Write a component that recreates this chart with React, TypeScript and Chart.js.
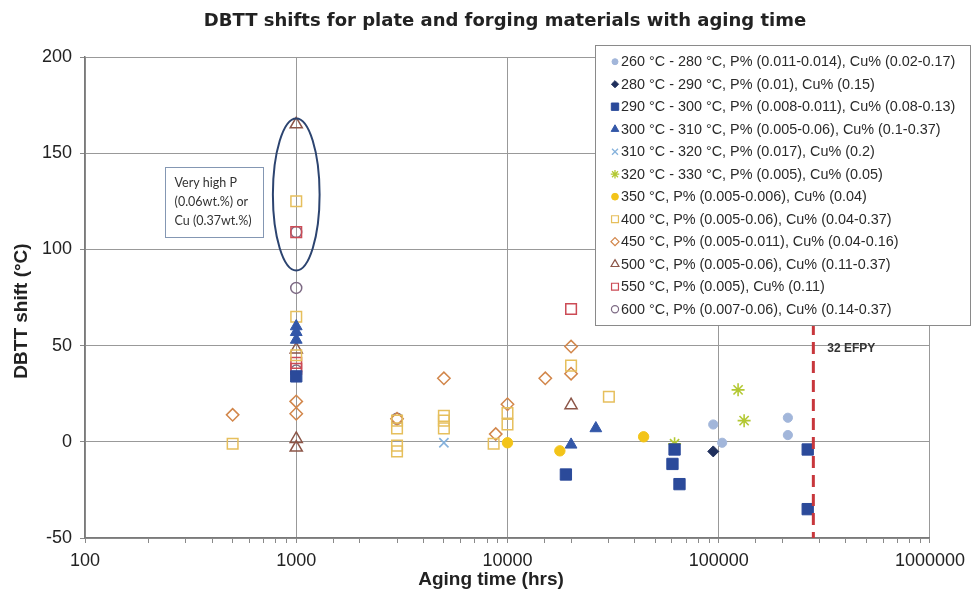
import React, { useEffect, useRef } from "react";
import { Chart, registerables } from "chart.js";
import { drawPoint } from "chart.js/helpers";

Chart.register(...registerables);

// ---------- DATA ----------
const chartTitle = "DBTT shifts for plate and forging materials with aging time";
const xAxisTitle = "Aging time (hrs)";
const yAxisTitle = "DBTT shift (\u00B0C)";

const seriesLabels = [
  "260 \u00B0C - 280 \u00B0C, P% (0.011-0.014), Cu% (0.02-0.17)",
  "280 \u00B0C - 290 \u00B0C, P% (0.01), Cu% (0.15)",
  "290 \u00B0C - 300 \u00B0C, P% (0.008-0.011), Cu% (0.08-0.13)",
  "300 \u00B0C - 310 \u00B0C, P% (0.005-0.06), Cu% (0.1-0.37)",
  "310 \u00B0C - 320 \u00B0C, P% (0.017), Cu% (0.2)",
  "320 \u00B0C - 330 \u00B0C, P% (0.005), Cu% (0.05)",
  "350 \u00B0C, P% (0.005-0.006), Cu% (0.04)",
  "400 \u00B0C, P% (0.005-0.06), Cu% (0.04-0.37)",
  "450 \u00B0C, P% (0.005-0.011), Cu% (0.04-0.16)",
  "500 \u00B0C, P% (0.005-0.06), Cu% (0.11-0.37)",
  "550 \u00B0C, P% (0.005), Cu% (0.11)",
  "600 \u00B0C, P% (0.007-0.06), Cu% (0.14-0.37)",
];

const s260X = [94200, 103800, 212500, 212500];
const s260Y = [9, -0.5, 12.5, 3.5];
const s280X = [94200];
const s280Y = [-5];
const s290X = [1000, 18900, 60400, 61800, 65200, 263800, 263800];
const s290Y = [34, -17, -11.5, -4, -22, -4, -35];
const s300X = [1000, 1000, 1000, 20000, 26200];
const s300Y = [60, 57, 53, -1.5, 7];
const s310X = [5000];
const s310Y = [-0.5];
const s320X = [61800, 123500, 131900];
const s320Y = [-1, 27, 11];
const s350X = [10000, 17700, 44100];
const s350Y = [-0.5, -4.7, 2.6];
const s400X = [500, 1000, 1000, 1000, 3000, 3000, 3000, 3000, 5000, 5000, 5000, 8600, 10000, 10000, 20000, 30200];
const s400Y = [-1, 125, 65, 45, 11, 7, -2, -5, 13.5, 11, 7, -1, 15, 9, 39.6, 23.4];
const s450X = [500, 1000, 1000, 3000, 5000, 8800, 10000, 15100, 20000, 20000];
const s450Y = [14, 21, 14.6, 12, 33, 4, 19.5, 33, 49.5, 35.4];
const s500X = [1000, 1000, 1000, 1000, 20000];
const s500Y = [165, 48, 1.5, -3, 19];
const s550X = [1000, 1000, 1000, 20000];
const s550Y = [109, 41, 38, 69];
const s600X = [1000, 1000, 1000, 3000];
const s600Y = [109, 80, 37, 12];

const xMin = 100;
const xMax = 1000000;
const yMin = -50;
const yMax = 200;
const yStep = 50;

const efpyHours = 280512; // 32 EFPY
const efpyLabel = "32 EFPY";
const efpyLabelY = 46.5;

const noteLines = ["Very high P", "(0.06wt.%) or", "Cu (0.37wt.%)"];
const noteBoxX = [238, 689];
const noteBoxY = [142.7, 106.3];
const ellipseX = [783, 1000, 1303];
const ellipseY = [168, 89];

// ---------- STYLES ----------
type Sty = { style: string; r: number; fill: string; stroke: string; bw: number };
const styles: Sty[] = [
  { style: "circle", r: 4.6, fill: "#a2b6da", stroke: "#a2b6da", bw: 1 },
  { style: "rectRot", r: 5.5, fill: "#1f2f5c", stroke: "#1f2f5c", bw: 1 },
  { style: "rect", r: 8, fill: "#2b4a9a", stroke: "#2b4a9a", bw: 1 },
  { style: "triangle", r: 6.8, fill: "#3357a8", stroke: "#3357a8", bw: 1 },
  { style: "crossRot", r: 6.5, fill: "rgba(0,0,0,0)", stroke: "#86b2dc", bw: 1.6 },
  { style: "star", r: 6.5, fill: "rgba(0,0,0,0)", stroke: "#b3c832", bw: 1.6 },
  { style: "circle", r: 5.2, fill: "#f3c419", stroke: "#f3c419", bw: 1 },
  { style: "rect", r: 7.5, fill: "rgba(0,0,0,0)", stroke: "#e6bf5c", bw: 1.5 },
  { style: "rectRot", r: 6.2, fill: "rgba(0,0,0,0)", stroke: "#d2864a", bw: 1.5 },
  { style: "triangle", r: 7, fill: "rgba(0,0,0,0)", stroke: "#8c5648", bw: 1.5 },
  { style: "rect", r: 7.5, fill: "rgba(0,0,0,0)", stroke: "#cc4b55", bw: 1.5 },
  { style: "circle", r: 5.5, fill: "rgba(0,0,0,0)", stroke: "#7d6a84", bw: 1.5 },
];

const seriesX = [s260X, s280X, s290X, s300X, s310X, s320X, s350X, s400X, s450X, s500X, s550X, s600X];
const seriesY = [s260Y, s280Y, s290Y, s300Y, s310Y, s320Y, s350Y, s400Y, s450Y, s500Y, s550Y, s600Y];

const SANS = '"Liberation Sans", Arial, sans-serif';

const isPow10 = (v: number) => {
  const l = Math.log10(v);
  return Math.abs(l - Math.round(l)) < 1e-9;
};

const overlayPlugin = {
  id: "overlay",
  afterDatasetsDraw(chart: any) {
    const { ctx, chartArea, scales } = chart;
    const x = scales.x;
    const y = scales.y;
    ctx.save();
    // 32 EFPY dashed line
    const lx = x.getPixelForValue(efpyHours);
    ctx.strokeStyle = "#c8373c";
    ctx.lineWidth = 3;
    ctx.setLineDash([12, 7]);
    ctx.beginPath();
    ctx.moveTo(lx, chartArea.top);
    ctx.lineTo(lx, chartArea.bottom);
    ctx.stroke();
    ctx.setLineDash([]);
    ctx.fillStyle = "#333";
    ctx.font = `bold 12px ${SANS}`;
    ctx.textAlign = "left";
    ctx.textBaseline = "alphabetic";
    ctx.fillText(efpyLabel, lx + 14, y.getPixelForValue(efpyLabelY));

    // ellipse
    const cx = x.getPixelForValue(ellipseX[1]);
    const rx = (x.getPixelForValue(ellipseX[2]) - x.getPixelForValue(ellipseX[0])) / 2;
    const yt = y.getPixelForValue(ellipseY[0]);
    const yb = y.getPixelForValue(ellipseY[1]);
    ctx.strokeStyle = "#2c4470";
    ctx.lineWidth = 2;
    ctx.beginPath();
    ctx.ellipse(cx, (yt + yb) / 2, rx, (yb - yt) / 2, 0, 0, Math.PI * 2);
    ctx.stroke();

    // note box
    const bx0 = x.getPixelForValue(noteBoxX[0]);
    const bx1 = x.getPixelForValue(noteBoxX[1]);
    const by0 = y.getPixelForValue(noteBoxY[0]);
    const by1 = y.getPixelForValue(noteBoxY[1]);
    ctx.fillStyle = "#fff";
    ctx.fillRect(bx0, by0, bx1 - bx0, by1 - by0);
    ctx.strokeStyle = "#8497b3";
    ctx.lineWidth = 1;
    ctx.strokeRect(Math.round(bx0) + 0.5, Math.round(by0) + 0.5, Math.round(bx1 - bx0), Math.round(by1 - by0));
    ctx.fillStyle = "#333";
    ctx.font = '12.5px Lato, "Open Sans", sans-serif';
    ctx.textBaseline = "middle";
    noteLines.forEach((t, i) => ctx.fillText(t, bx0 + 10, by0 + 16 + i * 19));
    ctx.restore();
  },
  afterDraw(chart: any) {
    const { ctx } = chart;
    ctx.save();
    // legend box
    const lx0 = 595, ly0 = 45, lw = 375, lh = 280;
    ctx.fillStyle = "#fff";
    ctx.fillRect(lx0, ly0, lw, lh);
    ctx.strokeStyle = "#8a8a8a";
    ctx.lineWidth = 1;
    ctx.strokeRect(lx0 + 0.5, ly0 + 0.5, lw, lh);
    ctx.font = `14.4px ${SANS}`;
    ctx.textBaseline = "middle";
    ctx.textAlign = "left";
    seriesLabels.forEach((lab, i) => {
      const yy = 61.7 + i * 22.5;
      const s = styles[i];
      ctx.fillStyle = s.fill;
      ctx.strokeStyle = s.stroke;
      ctx.lineWidth = Math.max(1, s.bw * 0.8);
      drawPoint(ctx, { pointStyle: s.style, radius: s.r * 0.65, borderWidth: s.bw, rotation: 0 } as any, 615, yy);
      ctx.fillStyle = "#2a2a2a";
      ctx.fillText(lab, 621, yy + 0.5);
    });

    // main title
    ctx.fillStyle = "#222";
    ctx.font = 'bold 18px "DejaVu Sans", sans-serif';
    ctx.textAlign = "center";
    ctx.textBaseline = "middle";
    ctx.fillText(chartTitle, 505, 21);

    // x axis title
    ctx.font = `bold 19px ${SANS}`;
    ctx.fillText(xAxisTitle, 491, 580);

    // y axis title
    ctx.translate(22, 311);
    ctx.rotate(-Math.PI / 2);
    ctx.fillText(yAxisTitle, 0, 0);
    ctx.restore();
  },
};

export default function App() {
  const canvasRef = useRef<HTMLCanvasElement | null>(null);

  useEffect(() => {
    document.body.style.margin = "0";
    const canvas = canvasRef.current;
    if (!canvas) return;
    Chart.defaults.font.family = SANS;

    const datasets = seriesLabels.map((label, i) => ({
      label,
      data: seriesX[i].map((xv, j) => ({ x: xv, y: seriesY[i][j] })),
      pointStyle: styles[i].style as any,
      pointRadius: styles[i].r,
      pointHoverRadius: styles[i].r,
      pointBackgroundColor: styles[i].fill,
      pointBorderColor: styles[i].stroke,
      pointBorderWidth: styles[i].bw,
      showLine: false,
    }));

    const chart = new Chart(canvas, {
      type: "scatter",
      data: { datasets },
      options: {
        animation: false,
        responsive: false,
        maintainAspectRatio: false,
        layout: { padding: { top: 57, right: 37, left: 0, bottom: 0 } },
        plugins: {
          legend: { display: false },
          title: { display: false },
          tooltip: { enabled: false },
        },
        scales: {
          x: {
            type: "logarithmic",
            min: xMin,
            max: xMax,
            afterFit: (s: any) => {
              s.height = 56;
            },
            border: { color: "#7a7a7a", width: 1.5 },
            grid: {
              color: (c: any) => (c.tick && isPow10(c.tick.value) ? "#999999" : "rgba(0,0,0,0)"),
              tickColor: "#8a8a8a",
              tickLength: 5,
              lineWidth: 1,
            },
            ticks: {
              autoSkip: false,
              maxRotation: 0,
              padding: 7,
              color: "#222",
              font: { size: 18, family: SANS },
              callback: (v: any) => (isPow10(Number(v)) ? String(Number(v)) : ""),
            },
          },
          y: {
            type: "linear",
            min: yMin,
            max: yMax,
            afterFit: (s: any) => {
              s.width = 85;
            },
            border: { color: "#7a7a7a", width: 1.5 },
            grid: {
              color: "#999999",
              tickColor: "#8a8a8a",
              tickLength: 5,
              lineWidth: 1,
            },
            ticks: {
              stepSize: yStep,
              padding: 8,
              color: "#222",
              font: { size: 18, family: SANS },
            },
          },
        },
      },
      plugins: [overlayPlugin],
    });
    return () => chart.destroy();
  }, []);

  return (
    <div style={{ width: 972, height: 594, position: "relative", overflow: "hidden", background: "#fff" }}>
      <canvas ref={canvasRef} width={972} height={594} style={{ display: "block" }} />
    </div>
  );
}
